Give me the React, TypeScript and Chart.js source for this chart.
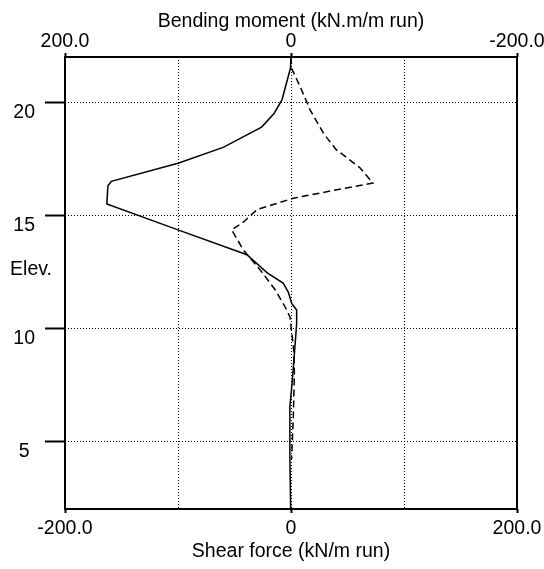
import React, { useEffect, useRef } from 'react';
import { Chart, registerables } from 'chart.js';

Chart.register(...registerables);

// Shear force (solid line, bottom axis)
const shearElev = [22, 21.5, 20.1, 19.5, 18.9, 18.0, 17.3, 16.5, 16.3, 15.5, 14.35, 13.25, 12.45, 12.0, 11.6, 11.1, 10.8, 10.2, 9.2, 7.7, 6.5, 4.3, 2.0];
const shearForce = [0, -0.5, -8, -15, -26, -60, -100, -159, -162, -163, -100, -39, -21, -7, -2.4, 0.6, 5, 5, 3.5, 1.2, -1, -1, -0.3];

// Bending moment (dashed line, top axis, reversed)
const momentElev = [22, 21.5, 20.7, 19.65, 18.6, 17.9, 17.1, 16.42, 16.1, 15.75, 15.25, 14.7, 14.35, 13.45, 12.5, 11.7, 10.95, 10.5, 9.0, 8.0, 6.0, 4.2];
const bendingMoment = [0, -0.5, -8, -17, -29, -40, -61, -72.5, -38, -2, 30, 42, 52.5, 42, 26, 14, 5.3, 0.9, -2.5, -3, -2, -0.5];

const forceTicks = [-200, -100, 0, 100, 200];
const labelledForceTicks = [-200, 0, 200];
const elevTicks = [5, 10, 15, 20];

const xTitle = 'Shear force (kN/m run)';
const x2Title = 'Bending moment (kN.m/m run)';
const yTitle = 'Elev.';

const FONT_FAMILY = '"Liberation Sans", Arial, sans-serif';
const FONT_SIZE = 19.5;

export default function App() {
  const ref = useRef<HTMLCanvasElement | null>(null);

  useEffect(() => {
    if (!ref.current) return;
    const font = { family: FONT_FAMILY, size: FONT_SIZE };
    const fmt = (v: number) => (labelledForceTicks.includes(v) ? (v === 0 ? '0' : v.toFixed(1)) : '');
    const tickCol = (c: any) => (c.tick && labelledForceTicks.includes(c.tick.value) ? '#000' : 'rgba(0,0,0,0)');

    const frame = {
      id: 'frame',
      afterDatasetsDraw(chart: any) {
        const { ctx, chartArea } = chart;
        ctx.save();
        ctx.strokeStyle = '#000';
        ctx.lineWidth = 2;
        ctx.strokeRect(chartArea.left, chartArea.top, chartArea.right - chartArea.left, chartArea.bottom - chartArea.top);
        ctx.restore();
      },
      afterDraw(chart: any) {
        const { ctx, chartArea } = chart;
        ctx.save();
        ctx.font = `${FONT_SIZE}px ${FONT_FAMILY}`;
        ctx.fillStyle = '#000';
        ctx.textAlign = 'center';
        ctx.textBaseline = 'middle';
        ctx.fillText(yTitle, chartArea.left - 34, chartArea.top + (chartArea.bottom - chartArea.top) * 0.47);
        ctx.restore();
      },
    };

    const chart = new Chart(ref.current, {
      type: 'scatter',
      data: {
        datasets: [
          {
            label: 'Shear force',
            data: shearElev.map((e, i) => ({ x: shearForce[i], y: e })),
            xAxisID: 'x',
            yAxisID: 'y',
            showLine: true,
            borderColor: '#000',
            borderWidth: 1.5,
            pointRadius: 0,
            fill: false,
          },
          {
            label: 'Bending moment',
            data: momentElev.map((e, i) => ({ x: bendingMoment[i], y: e })),
            xAxisID: 'x2',
            yAxisID: 'y',
            showLine: true,
            borderColor: '#000',
            borderWidth: 1.5,
            borderDash: [7, 4],
            pointRadius: 0,
            fill: false,
          },
        ],
      },
      options: {
        animation: false,
        responsive: false,
        devicePixelRatio: 1,
        layout: { padding: { left: 0, right: 27, top: 0, bottom: 0 } },
        plugins: { legend: { display: false }, tooltip: { enabled: false } },
        scales: {
          x: {
            type: 'linear',
            position: 'bottom',
            min: -200,
            max: 200,
            afterBuildTicks: (s: any) => { s.ticks = forceTicks.map((v) => ({ value: v })); },
            ticks: { callback: (v: any) => fmt(Number(v)), color: '#000', font, padding: 4, maxRotation: 0, autoSkip: false },
            grid: { color: '#000', lineWidth: 1, tickLength: 4, tickWidth: 2, tickColor: tickCol, tickBorderDash: [] },
            border: { display: false, dash: [1, 2] },
            title: { display: true, text: xTitle, color: '#000', font, padding: { top: 0, bottom: 6 } },
            afterFit: (s: any) => { s.height = 60; s.paddingLeft = 0; s.paddingRight = 0; },
          },
          x2: {
            type: 'linear',
            position: 'top',
            reverse: true,
            min: -200,
            max: 200,
            afterBuildTicks: (s: any) => { s.ticks = forceTicks.map((v) => ({ value: v })); },
            ticks: { callback: (v: any) => fmt(Number(v)), color: '#000', font, padding: 0, maxRotation: 0, autoSkip: false },
            grid: { drawOnChartArea: false, color: '#000', tickLength: 4, tickWidth: 2, tickColor: tickCol, tickBorderDash: [] },
            border: { display: false },
            title: { display: true, text: x2Title, color: '#000', font, padding: { top: 10, bottom: 0 } },
            afterFit: (s: any) => { s.height = 57; s.paddingLeft = 0; s.paddingRight = 0; },
          },
          y: {
            type: 'linear',
            position: 'left',
            min: 2,
            max: 22,
            afterBuildTicks: (s: any) => { s.ticks = elevTicks.map((v) => ({ value: v })); },
            ticks: { color: '#000', font, padding: 10, labelOffset: 10, crossAlign: 'center', autoSkip: false },
            grid: { color: '#000', lineWidth: 1, tickLength: 20, tickWidth: 2, tickColor: '#000', tickBorderDash: [] },
            border: { display: false, dash: [1, 2] },
            afterFit: (s: any) => { s.width = 65; s.paddingTop = 0; s.paddingBottom = 0; },
          },
        },
      },
      plugins: [frame],
    } as any);
    return () => chart.destroy();
  }, []);

  return (
    <div style={{ position: 'fixed', left: 0, top: 0, width: 544, height: 569, background: '#fff' }}>
      <canvas ref={ref} width={544} height={569} style={{ display: 'block' }} />
    </div>
  );
}
